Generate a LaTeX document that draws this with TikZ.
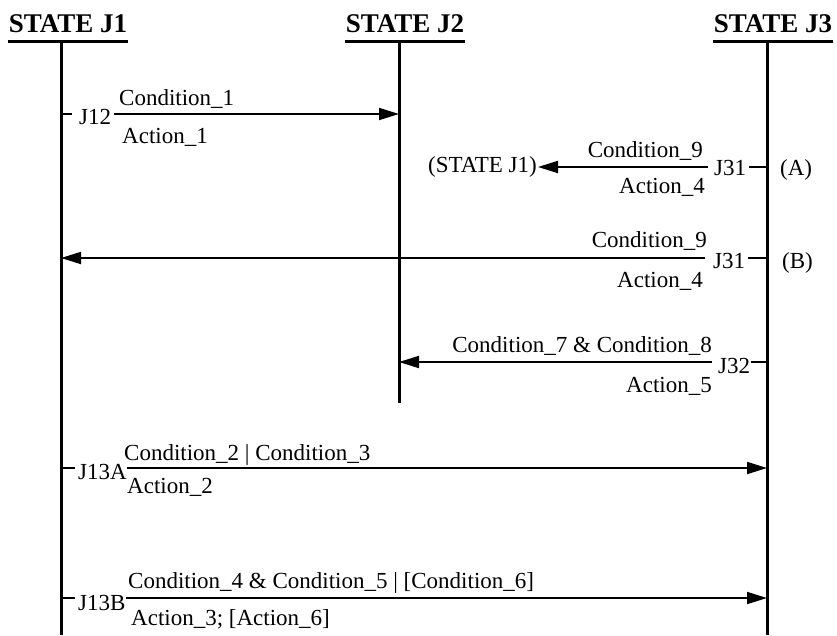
\documentclass[tikz,border=0pt]{standalone}
\usepackage{fontspec}
\setmainfont{Liberation Serif}
\usetikzlibrary{arrows.meta}
\begin{document}
\begin{tikzpicture}[x=1pt,y=-1pt,
  txt/.style={inner sep=0pt, font=\fontsize{23}{27}\selectfont},
  head/.style={inner xsep=1pt, inner ysep=8pt, anchor=south, font=\bfseries\fontsize{27}{32}\selectfont},
  ul/.style={line width=3pt},
  life/.style={line width=3pt},
  tick/.style={line width=1.5pt},
  msg/.style={line width=1.8pt, -{Triangle[length=20pt,width=12pt]}},
]
\useasboundingbox (0,0) rectangle (837,635);

% state headers with underline
\node[head] (h1) at (68,41)  {STATE J1};
\node[head] (h2) at (405,41) {STATE J2};
\node[head] (h3) at (773,41) {STATE J3};
\foreach \h in {h1,h2,h3} \draw[ul] (\h.south west) -- (\h.south east);

% lifelines
\coordinate (t1) at (61,41);  \coordinate (b1) at (61,635);
\coordinate (t2) at (399,41); \coordinate (b2) at (399,403);
\coordinate (t3) at (767,41); \coordinate (b3) at (767,635);
\draw[life] (t1) -- (b1);
\draw[life] (t2) -- (b2);
\draw[life] (t3) -- (b3);

% J12 : J1 -> J2
\coordinate (p12) at (61,114);
\node[txt, anchor=base west] (j12) at (79,124) {J12};
\draw[tick] (p12) -- ([xshift=-7pt]j12.west |- p12);
\draw[msg] ([xshift=3pt]j12.east |- p12) -- (p12 -| t2);
\node[txt, anchor=base west] (c12) at (119,105) {Condition\_1};
\node[txt, anchor=base west] (a12) at (122,143) {Action\_1};

% J31 (A) : J3 -> (STATE J1)
\coordinate (p31a) at (767,167);
\node[txt, anchor=base west] (j31a) at (714,175) {J31};
\node[txt, anchor=base west] (la) at (780,175) {(A)};
\node[txt, anchor=east] (sj1) at (537,167) {(STATE J1)};
\draw[tick] ([xshift=3pt]j31a.east |- p31a) -- ([xshift=1pt]p31a);
\draw[msg] ([xshift=-6pt]j31a.west |- p31a) -- ([xshift=1pt]sj1.east);
\node[txt, anchor=base east] (c31a) at (703,157) {Condition\_9};
\node[txt, anchor=base east] (a31a) at (705,193) {Action\_4};

% J31 (B) : J3 -> J1
\coordinate (p31b) at (767,258);
\node[txt, anchor=base west] (j31b) at (713,268) {J31};
\node[txt, anchor=base west] (lb) at (782,268) {(B)};
\draw[tick] ([xshift=3pt]j31b.east |- p31b) -- ([xshift=1pt]p31b);
\draw[msg] ([xshift=-8pt]j31b.west |- p31b) -- (p31b -| t1);
\node[txt, anchor=base east] (c31b) at (707,247) {Condition\_9};
\node[txt, anchor=base east] (a31b) at (703,287) {Action\_4};

% J32 : J3 -> J2
\coordinate (p32) at (767,362);
\node[txt, anchor=base west] (j32) at (718,373) {J32};
\draw[tick] ([xshift=1pt]j32.east |- p32) -- (p32);
\draw[msg] ([xshift=-6pt]j32.west |- p32) -- (p32 -| t2);
\node[txt, anchor=base east] (c32) at (712,352) {Condition\_7 \& Condition\_8};
\node[txt, anchor=base east] (a32) at (712,392) {Action\_5};

% J13A : J1 -> J3
\coordinate (p13a) at (61,468);
\node[txt, anchor=base west] (j13a) at (78,479) {J13A};
\draw[tick] (p13a) -- ([xshift=-3pt]j13a.west |- p13a);
\draw[msg] (j13a.east |- p13a) -- (p13a -| t3);
\node[txt, anchor=base west] (c13a) at (124,460) {Condition\_2 | Condition\_3};
\node[txt, anchor=base west] (a13a) at (127,493) {Action\_2};

% J13B : J1 -> J3
\coordinate (p13b) at (61,598);
\node[txt, anchor=base west] (j13b) at (78,610) {J13B};
\draw[tick] (p13b) -- ([xshift=-3pt]j13b.west |- p13b);
\draw[msg] (j13b.east |- p13b) -- (p13b -| t3);
\node[txt, anchor=base west] (c13b) at (128,588) {Condition\_4 \& Condition\_5 | [Condition\_6]};
\node[txt, anchor=base west] (a13b) at (131,625) {Action\_3; [Action\_6]};
\end{tikzpicture}
\end{document}
